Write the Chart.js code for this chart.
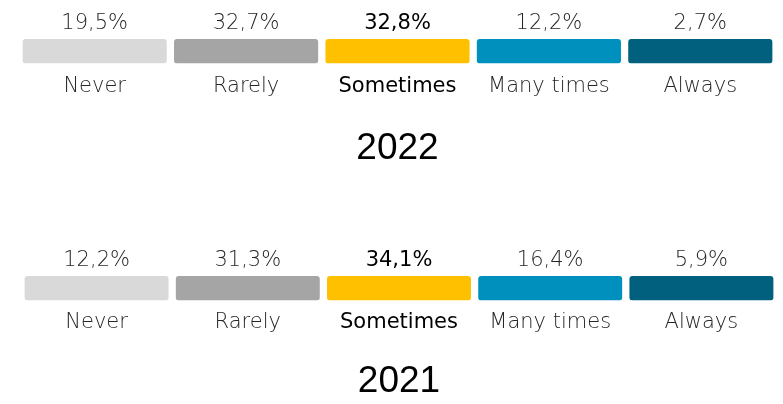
<!DOCTYPE html>
<html lang="en">
<head>
<meta charset="UTF-8">
<title>How often - 2022 / 2021</title>
<script src="https://cdn.jsdelivr.net/npm/chart.js@4.4.0/dist/chart.umd.min.js"></script>
<style>
  body { margin: 0; background: #fff; width: 783px; height: 404px; overflow: hidden; position: relative; }
  canvas { position: absolute; left: 0; }
</style>
</head>
<body>

<canvas id="chart2022" width="783" height="171" style="top:0px"></canvas>
<canvas id="chart2021" width="783" height="167" style="top:237px"></canvas>

<script>
// answer categories and the share for each year
const categories = ['Never', 'Rarely', 'Sometimes', 'Many times', 'Always'];
const values2022 = [19.5, 32.7, 32.8, 12.2, 2.7];
const values2021 = [12.2, 31.3, 34.1, 16.4, 5.9];
// every segment is drawn the same size, the share is only written above it
const segment = [1, 1, 1, 1, 1];
const barColors = ['#d9d9d9', '#a5a5a5', '#ffc000', '#0090be', '#00607e'];
const highlightIndex = 2; // "Sometimes" is set darker

const FONT = '"DejaVu Sans", sans-serif';
const TEXT = '#262626';

function pct(v) {
  return v.toFixed(1).replace('.', ',') + '%';
}

// writes the percentage above each bar
const valueLabels = {
  id: 'valueLabels',
  afterDatasetsDraw(chart) {
    const ctx = chart.ctx;
    const vals = chart.options.plugins.valueLabels.values;
    chart.getDatasetMeta(0).data.forEach(function (bar, i) {
      ctx.save();
      ctx.font = (i === highlightIndex ? '400 ' : '200 ') + '21px ' + FONT;
      ctx.fillStyle = i === highlightIndex ? '#000000' : TEXT;
      ctx.textAlign = 'center';
      ctx.textBaseline = 'alphabetic';
      ctx.fillText(pct(vals[i]), bar.x, bar.y - 10);
      ctx.restore();
    });
  }
};

function makeChart(id, year, values, padLeft, padRight, tickPad, titleTop) {
  return new Chart(document.getElementById(id), {
    type: 'bar',
    data: {
      labels: categories,
      datasets: [{
        data: segment,
        backgroundColor: barColors,
        borderRadius: 3,
        borderSkipped: false,
        categoryPercentage: 1,
        barPercentage: 0.952
      }]
    },
    options: {
      responsive: false,
      animation: false,
      devicePixelRatio: 1,
      layout: { padding: { top: 39, left: padLeft, right: padRight, bottom: 0 } },
      scales: {
        y: { display: false, min: 0, max: 1 },
        x: {
          grid: { display: false, drawTicks: false, tickLength: 0 },
          border: { display: false },
          ticks: {
            padding: tickPad,
            color: function (c) { return c.index === highlightIndex ? '#000000' : TEXT; },
            font: function (c) {
              return { family: FONT, size: 21, weight: c.index === highlightIndex ? '400' : '200' };
            }
          }
        }
      },
      plugins: {
        legend: { display: false },
        tooltip: { enabled: false },
        title: {
          display: true,
          position: 'bottom',
          text: year,
          color: '#000000',
          font: { family: '"Liberation Sans", Arial, sans-serif', size: 37, weight: '400' },
          padding: { top: titleTop, bottom: 0 }
        },
        valueLabels: { values: values }
      }
    },
    plugins: [valueLabels]
  });
}

makeChart('chart2022', '2022', values2022, 19, 7, 11, 16);
makeChart('chart2021', '2021', values2021, 21, 6, 10, 14);
</script>
</body>
</html>
